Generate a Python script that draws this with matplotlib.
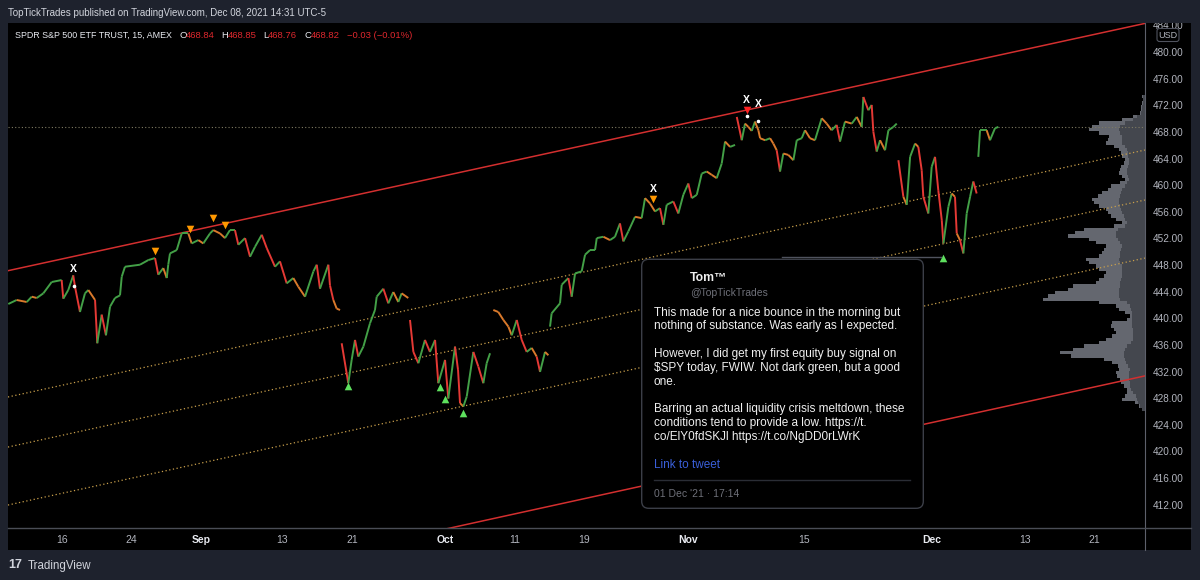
import numpy as np
import matplotlib
matplotlib.use("Agg")
import matplotlib.pyplot as plt
from matplotlib.collections import LineCollection
from matplotlib.patches import FancyBboxPatch, Rectangle
from matplotlib.lines import Line2D
from matplotlib.transforms import Affine2D

plt.rcParams['font.family'] = ['Liberation Sans', 'DejaVu Sans']

# ---- data --------------------------------------------------------------
# x is a trading-day index (Mon Aug 16 2021 = 0), None marks a session gap
bar_day = [
    -4.63, -3.91, -3.04, -2.61, -2.18, -1.61, -0.89, -0.03, 0.11, 0.54, 0.97, 1.12,
    1.55, 1.98, 2.27, 2.85, 3.04, 3.42, 3.79, 4.14, 4.57, 5.00, 5.15, 5.43, 6.72,
    7.44, 8.02, 8.30, 8.73, 9.03, 9.16, 9.31, 9.89, 10.32, 10.89, 11.18, 11.75,
    12.18, 12.76, 13.04, 13.62, 14.05, 14.48, 14.91, 15.20, 15.78, 16.21, 16.64,
    17.22, 17.65, 18.36, 18.79, 19.37, 19.94, 20.37, 20.95, 21.67, 21.96, 22.24,
    22.96, 23.10, 23.39, 23.68, 23.97, None,
    24.11, 24.68, 24.97, 25.26, 25.54, 25.98, 26.55, 26.98, 27.13, 27.70, 28.13,
    28.56, 28.99, 29.28, 29.85, None,
    30.00, 30.29, 30.72, 31.29, 31.72, 32.16, 32.44, 33.02, 33.30, 33.88, 34.14,
    34.31, 34.60, 34.89, 35.46, 35.89, 36.32, 36.61, 36.90, None,
    37.18, 37.61, 38.05, 38.48, 38.77, 39.20, 39.63, 40.06, 40.49, 40.92, 41.21,
    41.64, 41.93, None,
    42.07, 42.21, 42.93, 43.08, 43.65, 43.94, 44.23, 44.80, 45.09, 45.52, 45.95,
    46.10, 46.67, 47.24, 47.67, 48.10, 48.39, 48.82, 49.40, 49.97, 50.26, 50.69,
    51.12, 51.55, 51.84, 52.13, 52.70, 53.13, 53.56, 53.99, 54.29, 54.72, 55.15,
    55.58, 56.01, 56.44, 56.87, 57.16, 57.59, 58.02, None,
    58.17, 58.60, 58.88, 59.17, 59.46, 59.74, 60.03, 60.18, 60.61, 61.04, 61.32,
    61.61, 61.90, 62.18, 62.61, 63.05, 63.34, 63.77, 64.05, 64.48, 64.91, 65.49,
    65.92, 66.35, 66.78, 67.07, 67.50, 68.08, 68.51, 68.94, 69.08, 69.51, 69.80,
    69.94, 70.23, 70.52, 70.95, 71.24, 71.67, 71.96, None,
    72.10, 72.53, 72.82, 73.11, 73.54, 73.82, 74.11, 74.25, 74.68, 74.97, 75.26,
    75.54, 75.84, 75.98, 76.41, 76.70, 76.98, 77.13, 77.41, 77.70, 77.99, 78.28,
    78.56, 78.85, None,
    78.99, 79.14, 79.71, 80.00, 80.43, 80.72,
]
bar_price = [
    442.3, 442.9, 442.6, 443.4, 443.2, 443.9, 445.6, 445.9, 443.1, 444.4, 446.6, 444.9,
    441.1, 443.9, 444.4, 442.9, 436.4, 440.7, 437.6, 441.9, 443.2, 443.6, 446.4, 447.9, 448.2,
    448.9, 449.2, 446.7, 447.7, 446.2, 448.2, 449.9, 450.4, 452.9, 452.9, 451.4, 451.9,
    451.4, 452.9, 453.4, 452.9, 452.2, 453.4, 453.4, 451.2, 452.2, 449.4, 450.9,
    452.7, 450.7, 447.9, 448.7, 445.4, 446.2, 444.9, 443.4, 447.2, 448.2, 444.6,
    448.2, 445.1, 442.9, 441.6, 441.4, None,
    436.4, 430.4, 433.9, 436.9, 434.4, 435.9, 439.4, 441.4, 443.4, 444.6, 442.4,
    444.1, 442.6, 443.9, 443.2, None,
    439.9, 435.1, 433.4, 436.9, 435.1, 436.9, 430.4, 433.9, 428.1, 435.9, 432.4,
    427.4, 426.9, 428.4, 435.1, 432.9, 430.4, 433.4, 434.9, None,
    441.4, 441.1, 439.9, 438.9, 437.6, 439.9, 436.9, 435.1, 435.7, 434.4, 432.1,
    435.1, 434.6, None,
    438.9, 440.9, 442.4, 445.2, 446.2, 443.4, 446.9, 447.2, 449.7, 450.4, 450.4,
    452.2, 452.4, 451.9, 452.4, 454.4, 451.7, 453.2, 455.4, 455.2, 458.2, 457.4,
    456.2, 456.7, 454.2, 457.2, 457.7, 455.9, 458.7, 460.4, 458.2, 458.7, 461.9,
    462.2, 461.7, 461.2, 463.4, 466.7, 465.9, 466.2, None,
    470.4, 466.9, 469.4, 468.9, 468.3, 469.7, 468.4, 467.2, 466.9, 467.2, 466.4,
    465.4, 462.2, 464.9, 464.7, 463.9, 466.9, 467.2, 468.4, 467.2, 466.9, 470.2,
    469.4, 468.4, 469.2, 466.7, 469.7, 469.4, 470.4, 468.9, 473.4, 471.4, 472.2,
    468.2, 465.2, 466.9, 465.4, 468.4, 468.9, 469.4, None,
    463.9, 458.4, 457.2, 464.4, 466.4, 465.9, 462.4, 458.4, 455.9, 462.9, 464.4,
    459.4, 454.9, 451.4, 456.9, 458.9, 458.4, 452.9, 451.9, 449.9, 455.9, 458.4,
    460.7, 458.9, None,
    464.4, 468.4, 468.4, 466.9, 468.7, 468.9,
]
last_price = 468.82

# signal markers
x_sig_day = [0.97, 50.97, 59.02, 60.03]
x_sig_price = [447.5, 459.6, 472.9, 472.3]
dot_day = [1.03, 59.02, 60.03]
dot_price = [445.0, 470.5, 469.8]
sell_day = [8.02, 11.03, 13.04, 14.05, 50.97]
sell_price = [450.3, 453.6, 455.2, 454.2, 458.0]
strong_sell_day = [59.02]
strong_sell_price = [471.5]
buy_day = [24.68, 32.59, 33.02, 34.60, 75.98]
buy_price = [430.0, 429.8, 428.1, 425.9, 449.2]

# regression channel: (day0, price0, day1, price1)
channel_solid = [(-4.66, 447.3, 93.36, 484.45), (-4.66, 394.1, 93.36, 431.5)]
channel_dotted = [(-4.66, 428.33, 93.36, 465.43), (-4.66, 420.81, 93.36, 457.92),
                  (-4.66, 412.1, 93.36, 449.2)]

# volume profile, 0.5 USD rows from 426.5 up to 473.5
profile_start, profile_step = 426.5, 0.5
profile_total = [
    3, 6, 10, 22, 20, 18, 18, 21, 23, 24, 27, 28, 25, 26, 32, 40, 72, 83, 70, 60,
    45, 38, 32, 28, 30, 33, 32, 18, 15, 20, 25, 28, 45, 100, 95, 88, 75, 70, 48, 45,
    40, 38, 45, 48, 55, 58, 45, 42, 40, 38, 48, 55, 75, 68, 60, 30, 22, 28, 33, 36,
    38, 45, 50, 52, 46, 42, 36, 33, 24, 20, 22, 25, 24, 23, 21, 20, 22, 23, 25, 30,
    38, 36, 35, 45, 55, 52, 45, 22, 12, 5, 4, 4, 3, 2, 3,
]
profile_down = [
    3, 5, 7, 8, 9, 12, 14, 15, 15, 16, 16, 16, 15, 17, 19, 20, 21, 21, 20, 18,
    14, 12, 12, 12, 12, 13, 13, 13, 13, 13, 14, 15, 18, 24, 25, 25, 25, 24, 24, 23,
    22, 22, 22, 22, 24, 25, 24, 24, 23, 22, 24, 26, 28, 28, 26, 20, 18, 20, 21, 22,
    23, 24, 25, 25, 24, 23, 22, 20, 18, 16, 17, 18, 18, 17, 16, 16, 17, 17, 18, 20,
    22, 22, 22, 24, 25, 24, 20, 12, 8, 4, 3, 3, 2, 2, 2,
]

tick_days = [0, 6, 12, 19, 25, 33, 39, 45, 54, 64, 75, 83, 89]
tick_labels = ['16', '24', 'Sep', '13', '21', 'Oct', '11', '19', 'Nov', '15', 'Dec', '13', '21']
month_labels = {'Sep', 'Oct', 'Nov', 'Dec'}
price_ticks = [412, 416, 420, 424, 428, 432, 436, 440, 444, 448, 452, 456, 460,
               464, 468, 472, 476, 480, 484]

tweet_lines = [
    "This made for a nice bounce in the morning but",
    "nothing of substance. Was early as I expected.",
    "",
    "However, I did get my first equity buy signal on",
    "$SPY today, FWIW. Not dark green, but a good",
    "one.",
    "",
    "Barring an actual liquidity crisis meltdown, these",
    "conditions tend to provide a low. https://t.",
    "co/ElY0fdSKJl https://t.co/NgDD0rLWrK",
]

# ---- figure ---------------------------------------------------------------
W, H = 1200, 580
BG = '#1e222d'
fig = plt.figure(figsize=(W / 100, H / 100), dpi=100, facecolor=BG)
# top-left pixel coordinates for the chrome around the chart
PX = Affine2D().scale(1 / 100, -1 / 100).translate(0, H / 100) + fig.dpi_scale_trans


def rect(x0, y0, x1, y1):
    return [x0 / W, 1 - y1 / H, (x1 - x0) / W, (y1 - y0) / H]


fig.add_artist(Rectangle((8, 23), 1183, 527, transform=PX, facecolor='black',
                         edgecolor='none', zorder=-5))

xlim = (-4.655, 93.36)
ylim = (408.65, 484.51)

# volume profile underneath
axv = fig.add_axes(rect(8, 23, 1145, 528), zorder=0)
axv.set_facecolor('black')
prof_y = profile_start + profile_step * np.arange(len(profile_total))
axv.barh(prof_y, profile_total, height=profile_step, color='#64676f', edgecolor='none')
axv.barh(prof_y, profile_down, height=profile_step, color='#44474e', edgecolor='none')
axv.set_xlim(max(profile_total) / 0.09, 0)
axv.set_ylim(*ylim)
axv.axis('off')

# price chart
ax = fig.add_axes(rect(8, 23, 1145, 528), zorder=1)
ax.patch.set_visible(False)
ax.set_xlim(*xlim)
ax.set_ylim(*ylim)
for s in ax.spines.values():
    s.set_visible(False)
ax.set_yticks([])

for d0, p0, d1, p1 in channel_solid:
    ax.plot([d0, d1], [p0, p1], color='#d32f2f', lw=1.1, zorder=2)
for d0, p0, d1, p1 in channel_dotted:
    ax.plot([d0, d1], [p0, p1], color='#c9a04c', lw=0.9, ls=(0, (1, 2)), zorder=2)
ax.axhline(last_price, color='#7f7b63', lw=0.8, ls=(0, (1, 2)), zorder=2)

days = np.array(bar_day, dtype=float)
prices = np.array(bar_price, dtype=float)
segs, cols = [], []
for i in range(len(days) - 1):
    if np.isnan(prices[i]) or np.isnan(prices[i + 1]):
        continue
    segs.append([(days[i], prices[i]), (days[i + 1], prices[i + 1])])
    dp = prices[i + 1] - prices[i]
    if dp >= 0:
        cols.append('#43a047')
    elif dp < -1.5:
        cols.append('#e53935')
    else:
        cols.append('#d9792b')
ax.add_collection(LineCollection(segs, colors=cols, linewidths=1.4, zorder=3))

ax.scatter(sell_day, sell_price, marker='v', s=30, color='#ff9800', zorder=4, linewidths=0)
ax.scatter(strong_sell_day, strong_sell_price, marker='v', s=30, color='#ff2222', zorder=4,
           linewidths=0)
ax.scatter(buy_day, buy_price, marker='^', s=30, color='#5ee05e', zorder=4, linewidths=0)
ax.plot(dot_day, dot_price, 'o', ms=1.6, color='white', zorder=4)
for d, p in zip(x_sig_day, x_sig_price):
    ax.text(d, p, 'X', color='white', fontsize=7.5, fontweight='bold', ha='center',
            va='center', zorder=5)

ax.set_xticks(tick_days, tick_labels)
ax.tick_params(axis='x', length=0, pad=5, labelsize=7.5, colors='#b2b5be')
for lab in ax.get_xticklabels():
    if lab.get_text() in month_labels:
        lab.set_color('#e8eaf0')
        lab.set_fontweight('bold')

# price scale
axp = fig.add_axes(rect(1145, 23, 1191, 528), zorder=1)
axp.set_facecolor('black')
axp.set_xlim(0, 1)
axp.set_ylim(*ylim)
axp.axis('off')
for v in price_ticks:
    axp.text(0.17, v, f"{v:.2f}", color='#b2b5be', fontsize=7.2, ha='left', va='center',
             clip_on=True)

# separators and overlays sit above the axes
TOP = 10
fig.add_artist(Line2D([1145, 1145], [23, 550], transform=PX, color='#5d606b', lw=0.8,
                      zorder=TOP))
fig.add_artist(Line2D([8, 1191], [528, 528], transform=PX, color='#4a4d56', lw=1.0,
                      zorder=TOP))

fig.add_artist(FancyBboxPatch((1157, 28.5), 22, 13, boxstyle='round,pad=0,rounding_size=2.5',
                              transform=PX, facecolor='black', edgecolor='#50535e', lw=0.8,
                              zorder=TOP))
fig.text(1168, 35.2, 'USD', transform=PX, color='#b2b5be', fontsize=6.5, ha='center',
         va='center', zorder=TOP + 1)

# header and legend
fig.text(8, 13, 'TopTickTrades published on TradingView.com, Dec 08, 2021 14:31 UTC-5',
         transform=PX, color='#d1d4dc', fontsize=7.0, va='center')
fig.text(15, 35, 'SPDR S&P 500 ETF TRUST, 15, AMEX', transform=PX, color='#e8eaf0',
         fontsize=6.4, va='center', zorder=TOP)
red = '#e0282e'
for x, s, c in [(179, 'O', '#e8eaf0'), (185.7, '468.84', red), (221.7, 'H', '#e8eaf0'),
                (227.7, '468.85', red), (263.3, 'L', '#e8eaf0'), (268.3, '468.76', red),
                (304.3, 'C', '#e8eaf0'), (310.7, '468.82', red),
                (346.7, '\u22120.03 (\u22120.01%)', red)]:
    fig.text(x, 35, s, transform=PX, color=c, fontsize=6.8, va='center', zorder=TOP)

# tweet card
fig.add_artist(Line2D([782, 941], [256.7, 256.7], transform=PX, color='#50535e', lw=1.0,
                      zorder=TOP))
fig.add_artist(FancyBboxPatch((641.7, 259.3), 281.6, 249, boxstyle='round,pad=0,rounding_size=7',
                              transform=PX, facecolor='black', edgecolor='#3b3e47', lw=1.0,
                              zorder=TOP))
fig.text(690, 278, 'Tom\u2122', transform=PX, color='#f0f0f0', fontsize=8.8,
         fontweight='bold', va='center', zorder=TOP + 1)
fig.text(690, 293.3, '@TopTickTrades', transform=PX, color='#6e7079', fontsize=7.5,
         va='center', zorder=TOP + 1)
line_y = 312.7
for line in tweet_lines:
    if line:
        fig.text(654, line_y, line, transform=PX, color='#f0f0f0', fontsize=8.5,
                 va='center', parse_math=False, zorder=TOP + 1)
    line_y += 13.8
fig.text(654, 465, 'Link to tweet', transform=PX, color='#3a5fd9', fontsize=8.5, va='center',
         zorder=TOP + 1)
fig.add_artist(Line2D([654, 910], [480, 480], transform=PX, color='#2a2d35', lw=1.0,
                      zorder=TOP + 1))
fig.text(654, 493.7, "01 Dec '21 \u00b7 17:14", transform=PX, color='#6e7079', fontsize=7.5,
         va='center', zorder=TOP + 1)

# footer logo
fig.text(8, 565.5, '17', transform=PX, color='#d1d4dc', fontsize=9, fontweight='black',
         va='center')
fig.text(27.6, 565.5, 'TradingView', transform=PX, color='#d1d4dc', fontsize=8.3,
         va='center')

fig.savefig('out.png', dpi=100, facecolor=BG)
